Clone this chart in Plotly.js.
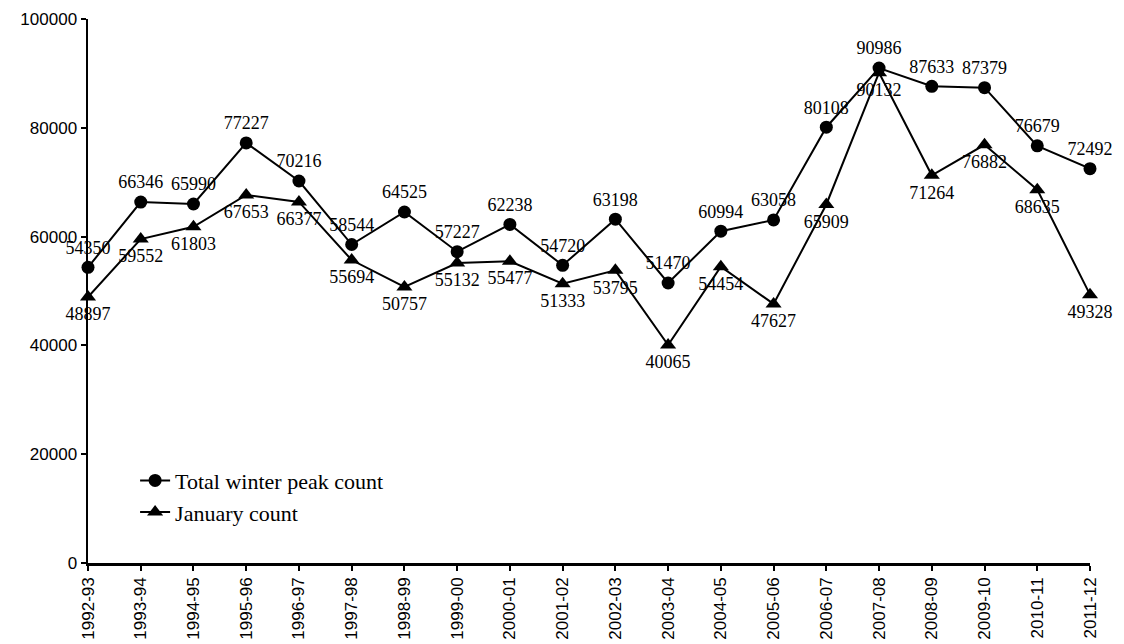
<!DOCTYPE html>
<html>
<head>
<meta charset="utf-8">
<script src="https://cdn.plot.ly/plotly-3.0.1.min.js"></script>
<style>html,body{margin:0;padding:0;background:#fff;}#chart{width:1124px;height:644px;}</style>
</head>
<body>
<div id="chart"></div>
<script>
const seasons = ["1992-93","1993-94","1994-95","1995-96","1996-97","1997-98","1998-99","1999-00","2000-01","2001-02","2002-03","2003-04","2004-05","2005-06","2006-07","2007-08","2008-09","2009-10","2010-11","2011-12"];
const totalPeak = [54350,66346,65990,77227,70216,58544,64525,57227,62238,54720,63198,51470,60994,63058,80108,90986,87633,87379,76679,72492];
const januaryCount = [48897,59552,61803,67653,66377,55694,50757,55132,55477,51333,53795,40065,54454,47627,65909,90132,71264,76882,68635,49328];
const yTicks = [0,20000,40000,60000,80000,100000];

const labelFont = {family: "Liberation Serif, Times New Roman, serif", size: 18, color: "#000"};

const traces = [
  {
    x: seasons, y: totalPeak, name: "Total winter peak count",
    type: "scatter", mode: "lines+markers+text",
    text: totalPeak.map(String), textposition: "top center",
    textfont: labelFont, cliponaxis: false,
    line: {color: "#000", width: 2},
    marker: {symbol: "circle", size: 13, color: "#000"}
  },
  {
    x: seasons, y: januaryCount, name: "January count",
    type: "scatter", mode: "lines+markers+text",
    text: januaryCount.map(String), textposition: "bottom center",
    textfont: labelFont, cliponaxis: false,
    line: {color: "#000", width: 2},
    marker: {symbol: "triangle-up", size: 14, color: "#000"}
  }
];

const layout = {
  width: 1124, height: 644,
  margin: {l: 88, r: 34, t: 19, b: 81},
  paper_bgcolor: "#fff", plot_bgcolor: "#fff",
  showlegend: true,
  legend: {
    x: 0.047, y: 0.19, xanchor: "left", yanchor: "top",
    font: {family: "Liberation Serif, Times New Roman, serif", size: 22, color: "#000"},
    bgcolor: "rgba(0,0,0,0)", tracegroupgap: 0, itemwidth: 30
  },
  xaxis: {
    type: "category", range: [0, 19], autorange: false,
    showgrid: false, zeroline: false,
    showline: true, linecolor: "#000", linewidth: 2.5,
    ticks: "outside", ticklen: 5, tickwidth: 2, tickcolor: "#000",
    tickangle: -90,
    tickfont: {family: "Liberation Sans, Arial, sans-serif", size: 17, color: "#000"}
  },
  yaxis: {
    range: [0, 100000], autorange: false,
    tickmode: "array", tickvals: yTicks, ticktext: yTicks.map(String),
    showgrid: false, zeroline: false,
    showline: true, linecolor: "#000", linewidth: 2.5,
    ticks: "outside", ticklen: 5, tickwidth: 2, tickcolor: "#000",
    tickfont: {family: "Liberation Sans, Arial, sans-serif", size: 17, color: "#000"}
  }
};

Plotly.newPlot("chart", traces, layout, {displayModeBar: false, staticPlot: true});
</script>
</body>
</html>
